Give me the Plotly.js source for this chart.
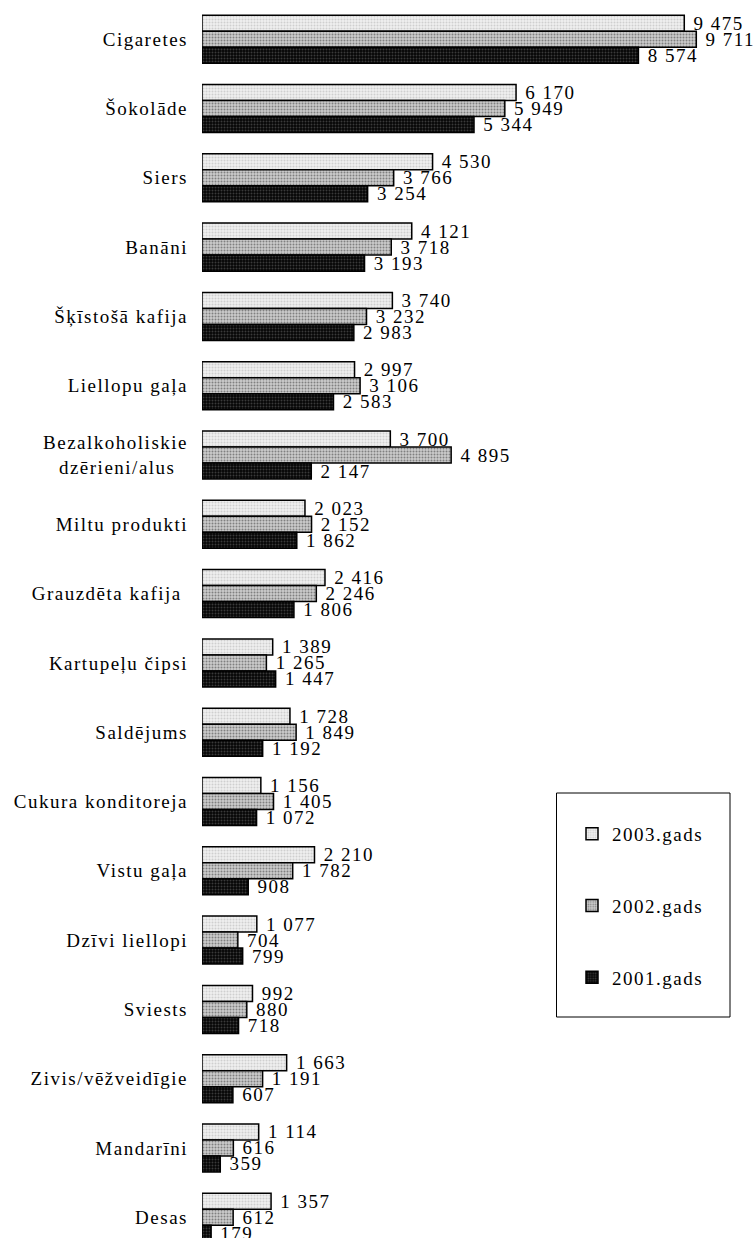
<!DOCTYPE html>
<html>
<head>
<meta charset="utf-8">
<script src="https://cdn.plot.ly/plotly-3.0.1.min.js"></script>
<style>
html, body { margin: 0; padding: 0; background: #fff; }
text { letter-spacing: 1.5px; }
</style>
</head>
<body>
<div id="chart" style="width:753px;height:1238px;"></div>
<script>
const categories = [
  "Cigaretes", "Šokolāde", "Siers", "Banāni", "Šķīstošā kafija", "Liellopu gaļa",
  "Bezalkoholiskie<br>dzērieni/alus\u00a0\u00a0", "Miltu produkti", "Grauzdēta kafija\u00a0",
  "Kartupeļu čipsi", "Saldējums", "Cukura konditoreja", "Vistu gaļa", "Dzīvi liellopi",
  "Sviests", "Zivis/vēžveidīgie", "Mandarīni", "Desas"
];
const seriesNames = ["2003.gads", "2002.gads", "2001.gads"];
const values2003 = [9475, 6170, 4530, 4121, 3740, 2997, 3700, 2023, 2416, 1389, 1728, 1156, 2210, 1077, 992, 1663, 1114, 1357];
const values2002 = [9711, 5949, 3766, 3718, 3232, 3106, 4895, 2152, 2246, 1265, 1849, 1405, 1782, 704, 880, 1191, 616, 612];
const values2001 = [8574, 5344, 3254, 3193, 2983, 2583, 2147, 1862, 1806, 1447, 1192, 1072, 908, 799, 718, 607, 359, 179];

const seriesValues = [values2003, values2002, values2001];
const patterns = [
  {bg: "#f0f0f0", fg: "#cfcfcf"},
  {bg: "#cccccc", fg: "#808080"},
  {bg: "#050505", fg: "#3a3a3a"}
];

const fontFam = "Liberation Serif";

const traces = seriesValues.map((vals, i) => ({
  type: "bar",
  orientation: "h",
  name: seriesNames[i],
  legendgroup: "g" + i,
  y: categories,
  x: vals,
  texttemplate: "\u00a0%{x:,}",
  textposition: "outside",
  textangle: 0,
  constraintext: "none",
  cliponaxis: false,
  outsidetextfont: {family: fontFam, size: 19, color: "#000"},
  marker: {
    color: patterns[i].bg,
    line: {color: "#000", width: 1.5},
    pattern: {shape: ".", bgcolor: patterns[i].bg, fgcolor: patterns[i].fg, size: 3, solidity: 0.35, fillmode: "replace"}
  },
  hoverinfo: "skip"
}));

const L = 202, H = 1238, W = 753;
const plotW = W - L;
const pxX = px => (px - L) / plotW;
const pxY = py => 1 - py / H;

const layout = {
  width: W, height: H,
  margin: {l: L, r: 0, t: 0, b: 0, pad: 0},
  paper_bgcolor: "#fff",
  plot_bgcolor: "rgba(0,0,0,0)",
  barmode: "group",
  bargap: 0.307,
  bargroupgap: 0,
  separators: ", ",
  font: {family: fontFam, size: 19, color: "#000"},
  xaxis: {range: [0, 10825], visible: false, showgrid: false, zeroline: false, fixedrange: true},
  yaxis: {
    type: "category",
    range: [17.299, -0.566],
    autorange: false,
    showgrid: false, zeroline: false, showline: false,
    ticks: "",
    ticklabelstandoff: 13,
    tickfont: {family: fontFam, size: 19, color: "#000"},
    fixedrange: true
  },
  showlegend: true,
  legend: {
    x: pxX(572), xanchor: "left",
    y: pxY(906), yanchor: "middle",
    traceorder: "grouped",
    tracegroupgap: 44,
    bgcolor: "rgba(0,0,0,0)",
    borderwidth: 0,
    font: {family: fontFam, size: 19, color: "#000"}
  },
  shapes: [{
    type: "rect", xref: "paper", yref: "paper",
    x0: pxX(556.5), x1: pxX(730), y0: pxY(793), y1: pxY(1017),
    line: {color: "#000", width: 1}, fillcolor: "rgba(0,0,0,0)", layer: "below"
  }]
};

Plotly.newPlot("chart", traces, layout, {displayModeBar: false, staticPlot: true});
</script>
</body>
</html>
